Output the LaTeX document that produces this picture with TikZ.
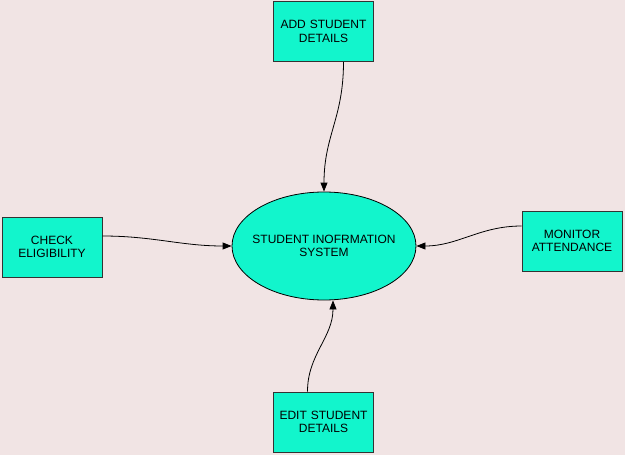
\documentclass[tikz,border=0pt]{standalone}
\usepackage{fontspec}
\setmainfont{Liberation Sans}
\usetikzlibrary{positioning, arrows.meta, shapes.geometric}
\definecolor{dfdteal}{HTML}{12F5CC}
\definecolor{dfdpink}{HTML}{F1E4E4}
\tikzstyle{pblock} = [rectangle, draw=black!80, fill=dfdteal, line width=0.9pt,
text width=90pt, align=center, minimum width=100pt, minimum height=60pt, inner sep=0pt]
\tikzstyle{sysblock} = [ellipse, draw=black, fill=dfdteal, line width=0.8pt,
minimum width=184pt, minimum height=108pt, inner ysep=0pt, inner xsep=-20pt, align=center]
\tikzstyle{arrow} = [line width=0.8pt, -{Triangle[length=9pt,width=7pt]}]

\begin{document}
\begin{tikzpicture}[x=1pt, y=-1pt]
        \tikzstyle{every node}=[font=\fontsize{12}{13.5}\selectfont]
        \fill[dfdpink] (0,0) rectangle (625,455);
        \useasboundingbox (0,0) rectangle (625,455);
        \node (sys) [sysblock] at (324,246) {STUDENT INOFRMATION\\SYSTEM};
        \node (add) [pblock] at (323.5,31.5) {ADD STUDENT\\DETAILS};
        \node (check) [pblock] at (52,247) {CHECK\\ELIGIBILITY};
        \node (monitor) [pblock] at (572,241) {MONITOR\\ATTENDANCE};
        \node (edit) [pblock] at (323.5,422) {EDIT STUDENT\\DETAILS};

        \draw [arrow] ([xshift=20pt]add.south) to[out=-90, in=90, looseness=1.1] (sys.north);
        \draw [arrow] ([yshift=11pt]check.east) to[out=0, in=180] (sys.west);
        \draw [arrow] ([yshift=15pt]monitor.west) to[out=180, in=0] (sys.east);
        \draw [arrow] ([xshift=-16pt]edit.north) to[out=90, in=-90] ([xshift=9pt]sys.south);
\end{tikzpicture}
\end{document}
